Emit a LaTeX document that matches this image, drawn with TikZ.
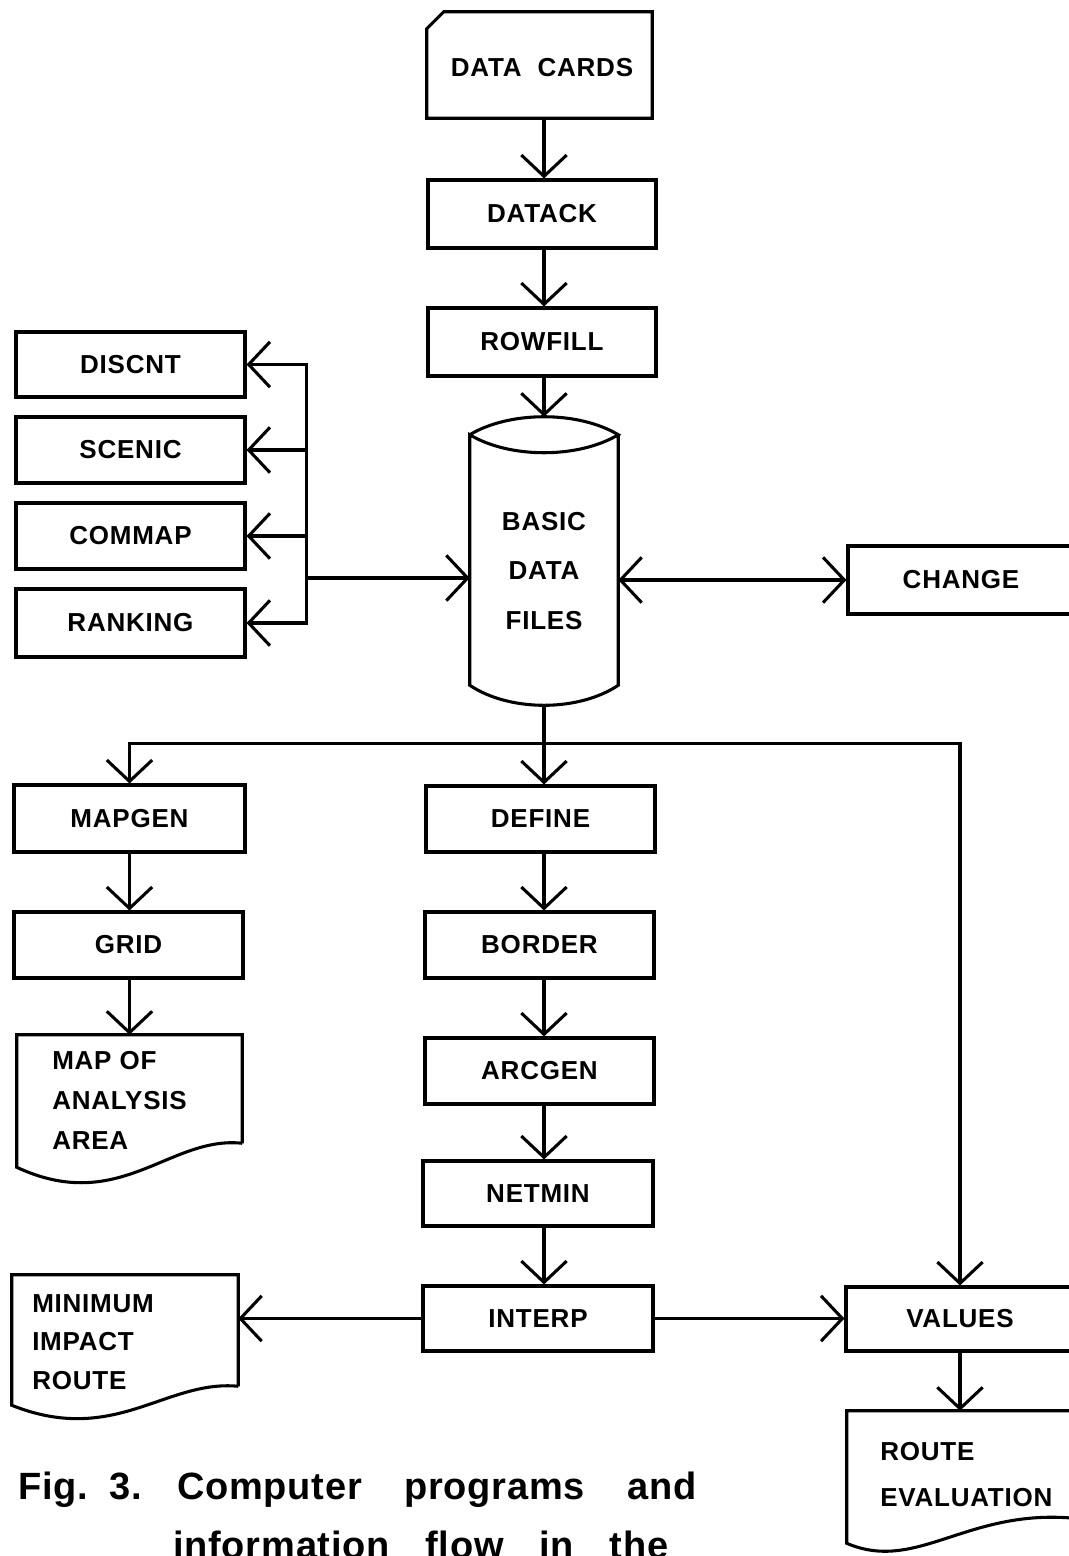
\documentclass[tikz,border=0pt]{standalone}
\usepackage{fontspec}
\setmainfont{Liberation Sans}
\newfontfamily\lblfont[LetterSpace=3]{Liberation Sans}
\newfontfamily\capfont[LetterSpace=2]{Liberation Sans}
\usetikzlibrary{arrows.meta,calc}
\tikzset{
  lw/.style={line width=2.3pt},
  arr/.style={lw,-{Straight Barb[length=16pt,width=34pt,line width=2.3pt]}},
  darr/.style={lw,{Straight Barb[length=16pt,width=34pt,line width=2.3pt]}-{Straight Barb[length=16pt,width=34pt,line width=2.3pt]}},
  lbl/.style={font=\lblfont\bfseries\fontsize{19.5}{24}\selectfont},
  box/.style 2 args={draw,lw,lbl,inner sep=0pt,minimum width=#1*0.75pt,minimum height=#2*0.75pt},
  area/.style 2 args={inner sep=0pt,minimum width=#1*0.75pt,minimum height=#2*0.75pt},
  doctxt/.style={lbl,inner sep=0pt,anchor=west,align=left},
  captxt/.style={anchor=base west,inner sep=0pt,font=\capfont\bfseries\fontsize{28.5}{34}\selectfont},
}
\begin{document}
\begin{tikzpicture}[x=0.75pt,y=-0.75pt]
\useasboundingbox (0,0) rectangle (1069,1556);
\clip (0,0) rectangle (1069,1556);

% ---------- top column ----------
\node[area={225}{106}] (dc) at (539.5,65) {};
\node[lbl,inner sep=0pt] (dctxt) at (542,68) {DATA\ \ CARDS};
\draw[lw,line join=miter] ($(dc.north west)+(17,0)$) -- (dc.north east) -- (dc.south east)
   -- (dc.south west) -- ($(dc.north west)+(0,17)$) -- cycle;
\node[box={228}{68}] (datack) at (542,214) {DATACK};
\node[box={228}{68}] (rowfill) at (542,342) {ROWFILL};

% cylinder
\node[area={148}{288}] (cyl) at (544,561) {};
\node[lbl,inner sep=0pt,align=center,font=\lblfont\bfseries\fontsize{19.5}{37}\selectfont] (cyltxt) at (544,571) {BASIC\\DATA\\FILES};
\draw[lw]
  ($(cyl.north west)+(0,18)$) .. controls ($(cyl.north west)+(40,-6)$) and ($(cyl.north east)+(-40,-6)$) .. ($(cyl.north east)+(0,18)$)
  .. controls ($(cyl.north east)+(-40,42)$) and ($(cyl.north west)+(40,42)$) .. ($(cyl.north west)+(0,18)$)
  -- ($(cyl.south west)+(0,-20)$)
  .. controls ($(cyl.south west)+(40,6.7)$) and ($(cyl.south east)+(-40,6.7)$) .. ($(cyl.south east)+(0,-20)$)
  -- ($(cyl.north east)+(0,18)$);

% ---------- left boxes ----------
\node[box={229}{65}] (discnt) at (130.5,364.5) {DISCNT};
\node[box={229}{66}] (scenic) at (130.5,450) {SCENIC};
\node[box={229}{66}] (commap) at (130.5,536) {COMMAP};
\node[box={229}{68}] (ranking) at (130.5,623) {RANKING};

% ---------- right box ----------
\node[box={226}{68}] (change) at (961,580) {CHANGE};

% ---------- lower left ----------
\node[box={231}{67}] (mapgen) at (129.5,818.5) {MAPGEN};
\node[box={229}{66}] (grid) at (128.5,945) {GRID};
\node[area={225}{108}] (map) at (129.5,1089) {};
\draw[lw,line join=miter] (map.south east) -- (map.north east) -- (map.north west) -- ($(map.south west)+(0,24)$)
  .. controls ($(map.south west)+(103,72)$) and ($(map.south west)+(153,-8)$) .. (map.south east);
\node[doctxt,font=\lblfont\bfseries\fontsize{19.5}{30}\selectfont] (maptxt) at (52,1100.5) {MAP OF\\ANALYSIS\\AREA};

% ---------- middle column ----------
\node[box={229}{66}] (define) at (540.5,819) {DEFINE};
\node[box={229}{66}] (border) at (539.5,945) {BORDER};
\node[box={229}{66}] (arcgen) at (539.5,1071) {ARCGEN};
\node[box={230}{65}] (netmin) at (538,1193.5) {NETMIN};
\node[box={230}{65}] (interp) at (538,1318.5) {INTERP};

% ---------- minimum impact route ----------
\node[area={226}{111}] (mini) at (125,1330.5) {};
\draw[lw,line join=miter] (mini.south east) -- (mini.north east) -- (mini.north west) -- ($(mini.south west)+(0,19)$)
  .. controls ($(mini.south west)+(103,60)$) and ($(mini.south west)+(154,-7)$) .. (mini.south east);
\node[doctxt,font=\lblfont\bfseries\fontsize{19.5}{29}\selectfont] (minitxt) at (32,1342) {MINIMUM\\IMPACT\\ROUTE};

% ---------- values / route evaluation ----------
\node[box={228}{64}] (values) at (960,1319) {VALUES};
\node[area={227}{107}] (route) at (960.5,1464.5) {};
\draw[lw,line join=miter] (route.south east) -- (route.north east) -- (route.north west) -- ($(route.south west)+(0,25)$)
  .. controls ($(route.south west)+(70,55)$) and ($(route.south west)+(120,-10)$) .. (route.south east);
\node[doctxt,font=\lblfont\bfseries\fontsize{19.5}{35}\selectfont] (routetxt) at (880,1474.5) {ROUTE\\EVALUATION};

% ---------- connectors: top column ----------
\draw[arr] (cyl.north |- dc.south) -- (cyl.north |- datack.north);
\draw[arr] (cyl.north |- datack.south) -- (cyl.north |- rowfill.north);
\draw[arr] (cyl.north |- rowfill.south) -- (cyl.north);

% left bus
\coordinate (bt) at ($(discnt.east)+(60,0)$);
\coordinate (bb) at (bt |- ranking.east);
\coordinate (bm) at ($(bt)+(0,213.5)$);
\draw[darr,line join=miter] (discnt.east) -- (bt) -- (bb) -- (ranking.east);
\draw[arr] (bt |- scenic.east) -- (scenic.east);
\draw[arr] (bt |- commap.east) -- (commap.east);
\draw[arr] (bm) -- (bm -| cyl.west);

% change
\draw[darr] (cyl.east |- change.west) -- (change.west);

% lower bus
\coordinate (bus) at ($(cyl.south)+(0,38)$);
\draw[lw] (cyl.south) -- (bus);
\draw[darr,line join=miter] (mapgen.north) -- (mapgen.north |- bus) -- (values.north |- bus) -- (values.north);
\draw[arr] (bus) -- (bus |- define.north);

% left column
\draw[arr] (mapgen.south) -- (mapgen.south |- grid.north);
\draw[arr] (mapgen.south |- grid.south) -- (mapgen.south |- map.north);

% middle column
\draw[arr] (bus |- define.south) -- (bus |- border.north);
\draw[arr] (bus |- border.south) -- (bus |- arcgen.north);
\draw[arr] (bus |- arcgen.south) -- (bus |- netmin.north);
\draw[arr] (bus |- netmin.south) -- (bus |- interp.north);

% interp outputs
\draw[arr] (interp.west) -- (interp.west -| mini.east);
\draw[arr] (interp.east) -- (interp.east -| values.west);
\draw[arr] (values.south) -- (values.south |- route.north);

% ---------- caption ----------
\node[captxt] (cap1) at (18,1499)
  {\makebox[508.5pt][s]{\makebox[119.25pt][l]{Fig.\hspace*{16pt}3.}Computer\hfill programs\hfill and}};
\node[captxt] (cap2) at (173,1558)
  {\makebox[371.25pt][s]{information\hfill flow\hfill in\hfill the}};
\end{tikzpicture}
\end{document}
